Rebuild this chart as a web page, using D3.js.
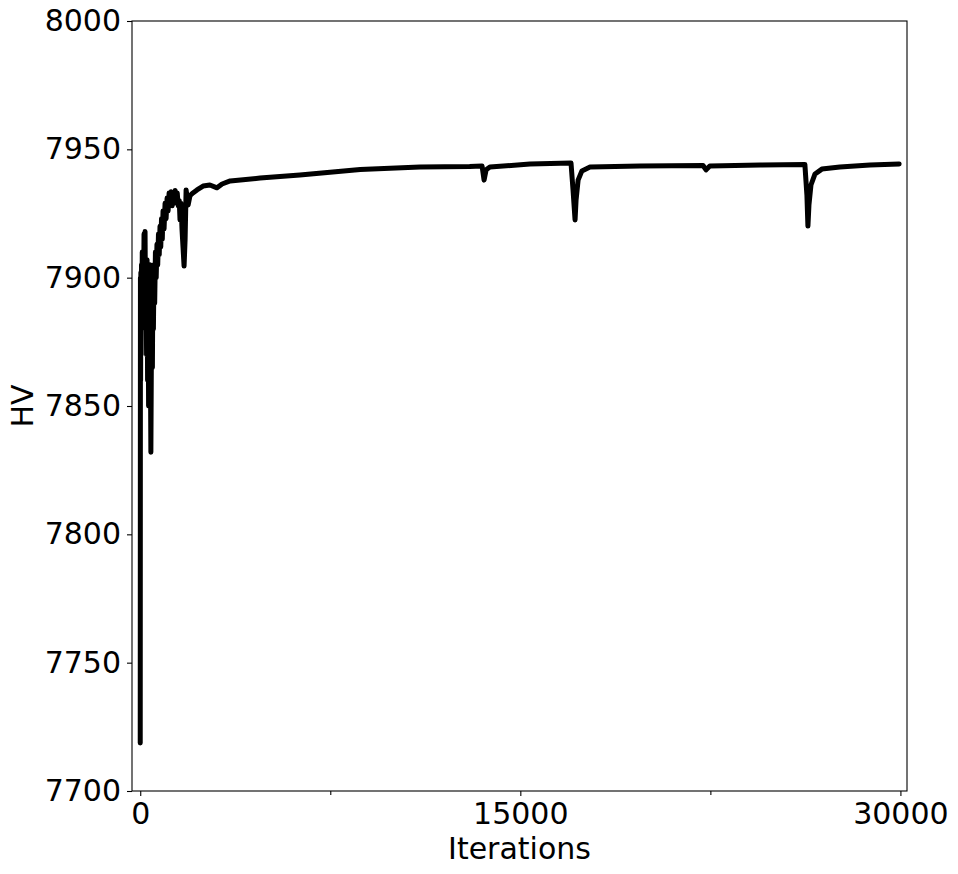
<!DOCTYPE html>
<html>
<head>
<meta charset="utf-8">
<title>HV over iterations</title>
<script src="https://d3js.org/d3.v7.min.js"></script>
<style>
  body { margin: 0; background: #fff; }
  .axis text { font-family: "DejaVu Sans", sans-serif; font-size: 30px; fill: #000; }
  .axis-title { font-family: "DejaVu Sans", sans-serif; font-size: 30px; fill: #000; }
</style>
</head>
<body>
<div id="chart"></div>
<script>
// data: iteration number and hypervolume
var iterations = [0, 8, 15, 25, 35, 50, 65, 80, 95, 110, 130, 150, 170, 190, 210, 230, 250,
  270, 290, 310, 330, 350, 370, 390, 405, 420, 440, 460, 480, 500, 520, 545, 570, 600, 630,
  660, 690, 720, 750, 780, 810, 840, 870, 900, 940, 980, 1020, 1060, 1100, 1140, 1180, 1220,
  1260, 1300, 1340, 1380, 1420, 1460, 1500, 1540, 1570, 1610, 1650, 1690, 1730, 1770, 1810,
  1890, 1965, 2080, 2240, 2480, 2750, 3030, 3230, 3550, 4730, 6300, 8680, 11040, 13000,
  13490, 13570, 13650, 13800, 15380, 17000, 17080, 17160, 17200, 17280, 17430, 17750, 19720,
  22210, 22330, 22480, 24470, 26230, 26310, 26350, 26390, 26470, 26630, 26900, 27610, 28800,
  29950];
var hv = [7718.7, 7900, 7860, 7902, 7870, 7905, 7880, 7910, 7885, 7906, 7890, 7917, 7895,
  7918, 7885, 7905, 7870, 7907, 7860, 7895, 7850, 7900, 7870, 7905, 7860, 7832, 7870, 7895,
  7865, 7900, 7880, 7905, 7890, 7910, 7900, 7913, 7905, 7917, 7909, 7920, 7912, 7923, 7915,
  7926, 7919, 7929, 7923, 7931, 7926, 7933, 7929, 7933.5, 7928, 7933, 7929, 7934, 7930, 7933,
  7928, 7930, 7922.5, 7929, 7918.6, 7911.6, 7904.5, 7914.7, 7934.2, 7928.3, 7932, 7933,
  7934.2, 7935.7, 7936.1, 7935, 7936.5, 7937.7, 7938.8, 7940, 7942.1, 7943.1, 7943.3, 7943.5,
  7938, 7942, 7943.1, 7944.3, 7944.7, 7934.2, 7922.5, 7930.3, 7938, 7941.6, 7943.1, 7943.5,
  7943.7, 7942, 7943.5, 7943.9, 7944.1, 7932.2, 7920.1, 7928.3, 7936.1, 7940.4, 7942.3,
  7943.1, 7943.9, 7944.3];

var xTicks = [0, 15000, 30000];
var xMinorTicks = [7500, 22500];
var yTicks = [7700, 7750, 7800, 7850, 7900, 7950, 8000];

var width = 958, height = 874;
var margin = {left: 132, right: 51, top: 21, bottom: 83};

var svg = d3.select("#chart").append("svg")
  .attr("width", width)
  .attr("height", height);

var x = d3.scaleLinear()
  .domain([-325, 30260])
  .range([margin.left, width - margin.right]);

var y = d3.scaleLinear()
  .domain([7700, 8000])
  .range([height - margin.bottom, margin.top]);

var points = iterations.map(function(it, i) { return [it, hv[i]]; });

var line = d3.line()
  .x(function(d) { return x(d[0]); })
  .y(function(d) { return y(d[1]); });

svg.append("path")
  .datum(points)
  .attr("d", line)
  .attr("fill", "none")
  .attr("stroke", "#000")
  .attr("stroke-width", 5)
  .attr("stroke-linejoin", "round")
  .attr("stroke-linecap", "round");

// axes
svg.append("g")
  .attr("class", "axis")
  .attr("transform", "translate(0," + (height - margin.bottom) + ")")
  .call(d3.axisBottom(x).tickValues(xTicks).tickFormat(d3.format("d")).tickSize(5).tickPadding(7));

svg.append("g")
  .attr("class", "axis")
  .attr("transform", "translate(0," + (height - margin.bottom) + ")")
  .call(d3.axisBottom(x).tickValues(xMinorTicks).tickFormat("").tickSize(4));

svg.append("g")
  .attr("class", "axis")
  .attr("transform", "translate(" + margin.left + ",0)")
  .call(d3.axisLeft(y).tickValues(yTicks).tickFormat(d3.format("d")).tickSize(5).tickPadding(6));

svg.selectAll(".axis .domain").remove();
svg.selectAll(".axis line").attr("stroke", "#000").attr("stroke-width", 1.1);

// frame around the plot
svg.append("rect")
  .attr("x", margin.left)
  .attr("y", margin.top)
  .attr("width", width - margin.left - margin.right)
  .attr("height", height - margin.top - margin.bottom)
  .attr("fill", "none")
  .attr("stroke", "#000")
  .attr("stroke-width", 1.1);

svg.append("text")
  .attr("class", "axis-title")
  .attr("x", (margin.left + width - margin.right) / 2)
  .attr("y", 859)
  .attr("text-anchor", "middle")
  .text("Iterations");

svg.append("text")
  .attr("class", "axis-title")
  .attr("transform", "translate(33," + ((margin.top + height - margin.bottom) / 2) + ") rotate(-90)")
  .attr("text-anchor", "middle")
  .text("HV");
</script>
</body>
</html>
